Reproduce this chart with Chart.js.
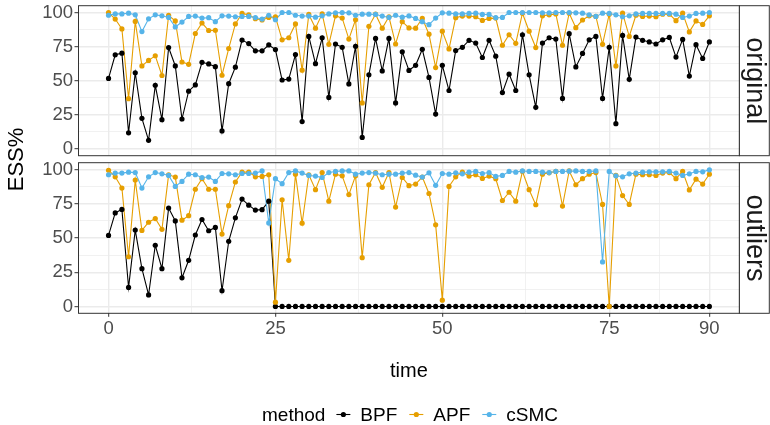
<!DOCTYPE html>
<html>
<head>
<meta charset="utf-8">
<script src="https://cdn.jsdelivr.net/npm/chart.js@4.4.1/dist/chart.umd.min.js"></script>
<style>
  html, body { margin: 0; padding: 0; background: #ffffff; }
  #wrap { position: relative; width: 770px; height: 425px; }
  #wrap canvas { position: absolute; left: 0; top: 0; }
</style>
</head>
<body>
<div id="wrap">
  <canvas id="panelOriginal" width="770" height="425"></canvas>
  <canvas id="panelOutliers" width="770" height="425"></canvas>
</div>
<script>
// ---- data -----------------------------------------------------------
const time = [
  0, 1, 2, 3, 4, 5, 6, 7, 8, 9, 10, 11, 12, 13, 14, 15, 16, 17, 18, 19,
  20, 21, 22, 23, 24, 25, 26, 27, 28, 29, 30, 31, 32, 33, 34, 35, 36, 37, 38, 39,
  40, 41, 42, 43, 44, 45, 46, 47, 48, 49, 50, 51, 52, 53, 54, 55, 56, 57, 58, 59,
  60, 61, 62, 63, 64, 65, 66, 67, 68, 69, 70, 71, 72, 73, 74, 75, 76, 77, 78, 79,
  80, 81, 82, 83, 84, 85, 86, 87, 88, 89, 90
];

const methods = ['BPF', 'APF', 'cSMC'];
const methodColors = ['#000000', '#E69F00', '#56B4E9'];
const panelLabels = ['original', 'outliers'];

const xMajor = [0, 25, 50, 75, 90];
const xMinor = [12.5, 37.5, 62.5, 82.5];
const yMajor = [0, 25, 50, 75, 100];
const yMinor = [12.5, 37.5, 62.5, 87.5];

// ESS% per time step, "original" data set
const originalBPF = [
  51.7, 69.0, 70.2, 11.8, 55.8, 22.4, 6.3, 46.6, 21.4, 74.3,
  60.8, 21.9, 42.3, 46.9, 63.5, 62.3, 60.3, 13.2, 47.8, 59.9,
  79.8, 77.2, 71.9, 71.9, 76.2, 72.8, 50.5, 51.2, 69.2, 20.0,
  82.5, 62.5, 81.5, 37.7, 76.9, 74.5, 47.6, 75.2, 8.4, 54.3,
  81.0, 57.2, 81.0, 33.7, 71.2, 57.5, 61.3, 73.0, 52.4, 25.5,
  61.3, 42.8, 72.1, 74.5, 79.6, 77.6, 67.0, 79.6, 68.0, 41.3,
  54.8, 42.8, 83.7, 54.3, 30.5, 77.6, 81.5, 80.5, 37.0, 84.5,
  60.1, 70.0, 80.0, 82.5, 37.0, 74.5, 18.5, 83.2, 51.0, 82.0,
  79.6, 78.4, 76.9, 80.0, 81.7, 67.3, 80.3, 53.4, 76.4, 66.3,
  78.4
];
const originalAPF = [
  100, 95.2, 88.0, 36.8, 93.5, 60.8, 64.9, 68.3, 53.8, 98.0,
  93.8, 63.7, 62.0, 84.6, 92.3, 86.8, 87.0, 54.0, 73.6, 91.6,
  99.3, 98.3, 95.5, 94.5, 96.4, 96.9, 80.0, 81.5, 91.6, 57.7,
  98.6, 88.5, 99.0, 76.7, 97.6, 95.9, 80.5, 94.7, 33.7, 89.9,
  98.8, 88.5, 96.9, 76.9, 93.3, 88.7, 88.5, 95.7, 84.1, 59.6,
  86.3, 73.3, 96.2, 97.4, 97.4, 96.9, 94.2, 95.7, 95.9, 76.0,
  83.7, 77.4, 99.5, 86.3, 74.3, 97.6, 98.3, 99.0, 76.0, 99.5,
  88.9, 94.5, 97.6, 97.1, 76.7, 98.8, 60.8, 99.5, 82.5, 98.0,
  97.1, 97.4, 96.9, 98.8, 98.8, 94.0, 99.5, 85.8, 93.8, 91.3,
  97.6
];
const originalCSMC = [
  98.0, 99.0, 99.0, 99.5, 98.3, 86.0, 95.4, 98.3, 97.6, 96.4,
  89.4, 93.0, 97.1, 97.4, 95.9, 96.2, 93.3, 97.6, 97.4, 96.9,
  97.1, 97.1, 96.3, 95.2, 98.0, 94.7, 100, 100, 98.0, 97.4,
  97.4, 96.6, 97.6, 99.0, 99.8, 100, 99.8, 98.0, 98.8, 98.8,
  98.6, 97.4, 96.4, 98.0, 96.6, 97.5, 95.7, 93.3, 91.1, 95.9,
  99.8, 99.5, 99.0, 99.0, 99.3, 99.5, 98.6, 98.6, 96.2, 96.4,
  100, 100, 100, 100, 100, 99.8, 99.8, 100, 100, 100,
  99.8, 99.5, 98.3, 97.1, 99.5, 99.3, 98.3, 96.9, 97.6, 99.0,
  99.3, 99.3, 99.3, 99.3, 99.3, 98.8, 96.4, 97.4, 99.3, 99.5,
  100
];

// ESS% per time step, "outliers" data set
const outliersBPF = [
  51.9, 68.3, 70.9, 13.9, 55.8, 27.6, 8.4, 44.7, 27.6, 71.9,
  62.5, 20.9, 33.7, 52.2, 63.5, 55.3, 57.7, 11.5, 47.6, 64.7,
  78.4, 74.0, 70.4, 70.7, 76.9, 0, 0, 0, 0, 0,
  0, 0, 0, 0, 0, 0, 0, 0, 0, 0,
  0, 0, 0, 0, 0, 0, 0, 0, 0, 0,
  0, 0, 0, 0, 0, 0, 0, 0, 0, 0,
  0, 0, 0, 0, 0, 0, 0, 0, 0, 0,
  0, 0, 0, 0, 0, 0, 0, 0, 0, 0,
  0, 0, 0, 0, 0, 0, 0, 0, 0, 0,
  0
];
const outliersAPF = [
  99.5, 94.7, 86.5, 36.3, 92.3, 55.5, 61.5, 64.2, 56.3, 96.2,
  94.5, 63.0, 66.3, 85.6, 93.3, 85.6, 85.6, 52.9, 73.6, 90.9,
  98.1, 98.1, 94.7, 95.0, 96.2, 3.1, 77.9, 33.7, 96.6, 60.8,
  96.2, 85.3, 97.8, 76.9, 96.6, 95.4, 81.7, 95.4, 35.6, 88.9,
  97.8, 87.0, 97.8, 72.6, 94.2, 88.2, 89.4, 94.5, 82.5, 59.6,
  4.6, 87.7, 94.7, 98.1, 95.2, 96.2, 93.5, 95.2, 93.3, 77.4,
  83.4, 76.9, 98.6, 85.3, 74.3, 96.6, 97.6, 98.6, 73.3, 99.0,
  88.9, 93.3, 96.6, 97.8, 74.5, 0, 95.7, 81.0, 74.5, 96.6,
  96.2, 96.2, 95.7, 97.4, 97.8, 93.3, 98.6, 85.1, 93.0, 89.4,
  96.6
];
const outliersCSMC = [
  96.2, 97.4, 97.4, 98.1, 97.8, 86.5, 94.7, 97.8, 96.9, 95.7,
  87.7, 91.3, 96.6, 96.2, 94.2, 94.5, 91.3, 97.1, 96.9, 96.2,
  97.1, 97.1, 97.4, 99.0, 61.0, 93.3, 89.7, 97.8, 99.0, 97.4,
  95.7, 95.2, 94.2, 97.8, 98.6, 99.0, 99.0, 96.6, 97.4, 97.8,
  97.4, 96.2, 96.6, 96.6, 97.4, 97.8, 95.9, 94.5, 97.6, 88.5,
  97.1, 96.6, 97.6, 96.9, 98.1, 98.6, 97.1, 97.8, 95.0, 95.7,
  98.6, 98.1, 99.0, 98.6, 98.6, 98.1, 97.8, 98.6, 98.6, 98.8,
  99.0, 98.6, 98.6, 99.0, 32.5, 98.6, 95.4, 94.7, 96.9, 97.4,
  98.1, 98.3, 98.3, 98.3, 98.6, 97.4, 95.7, 96.9, 98.6, 98.3,
  99.8
];

// ---- styling ----------------------------------------------------------
const FONT = '"Liberation Sans", Arial, Helvetica, sans-serif';
const CANVAS_W = 770, CANVAS_H = 425;
const PANEL_LEFT = 78.5, PANEL_RIGHT = 739.4, STRIP_W = 29.9;
const PANELS_Y = [[5.7, 155.7], [162.7, 313.3]];

Chart.defaults.font.family = FONT;

const isIn = (arr, v) => arr.some(a => Math.abs(a - v) < 1e-6);
const gridColor = '#EBEBEB';
const frameColor = '#333333';

// panel border plus the facet strip on the right
const panelFrame = {
  id: 'panelFrame',
  afterDraw(chart, args, opts) {
    const { ctx, chartArea: a } = chart;
    ctx.save();
    ctx.strokeStyle = frameColor;
    ctx.lineWidth = 1;
    ctx.strokeRect(a.left, a.top, a.right - a.left, a.bottom - a.top);
    ctx.fillStyle = '#ffffff';
    ctx.fillRect(a.right, a.top, opts.stripWidth, a.bottom - a.top);
    ctx.strokeRect(a.right, a.top, opts.stripWidth, a.bottom - a.top);
    ctx.translate(a.right + opts.stripWidth / 2, (a.top + a.bottom) / 2);
    ctx.rotate(Math.PI / 2);
    ctx.fillStyle = '#1A1A1A';
    ctx.font = '27px ' + FONT;
    ctx.textAlign = 'center';
    ctx.textBaseline = 'middle';
    ctx.fillText(opts.label, 0, 0);
    ctx.restore();
  }
};

// shared axis titles and the legend at the bottom
const furniture = {
  id: 'furniture',
  afterDraw(chart, args, opts) {
    if (!opts.enabled) return;
    const { ctx } = chart;
    ctx.save();
    ctx.fillStyle = '#000000';
    ctx.font = '20px ' + FONT;
    ctx.textAlign = 'center';
    ctx.textBaseline = 'alphabetic';
    ctx.fillText('time', (PANEL_LEFT + PANEL_RIGHT) / 2, 377);

    ctx.save();
    ctx.font = '22px ' + FONT;
    ctx.translate(23, (PANELS_Y[0][0] + PANELS_Y[1][1]) / 2);
    ctx.rotate(-Math.PI / 2);
    ctx.fillText('ESS%', 0, 0);
    ctx.restore();

    // legend
    ctx.font = '19px ' + FONT;
    ctx.textAlign = 'left';
    const yMid = 414.5, yBase = 421;
    let x = 262;
    ctx.fillText('method', x, yBase);
    x += ctx.measureText('method').width + 11;
    methods.forEach((m, i) => {
      ctx.strokeStyle = methodColors[i];
      ctx.lineWidth = 1.1;
      ctx.beginPath();
      ctx.moveTo(x, yMid);
      ctx.lineTo(x + 14, yMid);
      ctx.stroke();
      ctx.fillStyle = methodColors[i];
      ctx.beginPath();
      ctx.arc(x + 7, yMid, 2.6, 0, Math.PI * 2);
      ctx.fill();
      x += 24;
      ctx.fillStyle = '#000000';
      ctx.fillText(m, x, yBase);
      x += ctx.measureText(m).width + 12;
    });
    ctx.restore();
  }
};

function buildDatasets(seriesList) {
  const lines = seriesList.map((vals, i) => ({
    label: methods[i],
    data: time.map((t, j) => ({ x: t, y: vals[j] })),
    borderColor: methodColors[i],
    borderWidth: 1.1,
    pointRadius: 0,
    tension: 0,
    order: 6 - i
  }));
  const points = seriesList.map((vals, i) => ({
    label: methods[i],
    data: time.map((t, j) => ({ x: t, y: vals[j] })),
    showLine: false,
    pointRadius: 2.6,
    pointBorderWidth: 0,
    pointBackgroundColor: methodColors[i],
    order: 3 - i
  }));
  return lines.concat(points);
}

function makePanel(canvasId, seriesList, panelIndex) {
  const isBottom = panelIndex === 1;
  const [top, bottom] = PANELS_Y[panelIndex];
  const tickFont = { family: FONT, size: 18.5 };
  return new Chart(document.getElementById(canvasId), {
    type: 'line',
    data: { datasets: buildDatasets(seriesList) },
    options: {
      responsive: false,
      animation: false,
      events: [],
      devicePixelRatio: 1,
      layout: {
        padding: {
          left: 0,
          right: CANVAS_W - PANEL_RIGHT,
          top: top,
          bottom: isBottom ? 0 : CANVAS_H - bottom
        }
      },
      plugins: {
        legend: { display: false },
        tooltip: { enabled: false },
        panelFrame: { label: panelLabels[panelIndex], stripWidth: STRIP_W },
        furniture: { enabled: isBottom }
      },
      scales: {
        x: {
          type: 'linear',
          min: -4.5,
          max: 94.5,
          afterBuildTicks: s => {
            s.ticks = xMajor.concat(xMinor).sort((a, b) => a - b).map(v => ({ value: v }));
          },
          afterFit: s => {
            s.height = isBottom ? CANVAS_H - bottom : 0;
            s.paddingLeft = 0;
            s.paddingRight = 0;
          },
          border: { display: false },
          grid: {
            color: gridColor,
            lineWidth: c => (c.tick && isIn(xMajor, c.tick.value)) ? 1.4 : 0.7,
            drawTicks: isBottom,
            tickLength: 3.5,
            tickWidth: 1,
            tickColor: c => (c.tick && isIn(xMajor, c.tick.value)) ? frameColor : 'rgba(0,0,0,0)'
          },
          ticks: {
            display: isBottom,
            autoSkip: false,
            maxRotation: 0,
            padding: 1,
            font: tickFont,
            color: '#4D4D4D',
            callback: v => isIn(xMajor, v) ? String(v) : ''
          }
        },
        y: {
          type: 'linear',
          min: -5,
          max: 105,
          afterBuildTicks: s => {
            s.ticks = yMajor.concat(yMinor).sort((a, b) => a - b).map(v => ({ value: v }));
          },
          afterFit: s => {
            s.width = PANEL_LEFT;
            s.paddingTop = 0;
            s.paddingBottom = 0;
          },
          border: { display: false },
          grid: {
            color: gridColor,
            lineWidth: c => (c.tick && isIn(yMajor, c.tick.value)) ? 1.4 : 0.7,
            drawTicks: true,
            tickLength: 4,
            tickWidth: 1,
            tickColor: c => (c.tick && isIn(yMajor, c.tick.value)) ? frameColor : 'rgba(0,0,0,0)'
          },
          ticks: {
            autoSkip: false,
            padding: 1.5,
            font: tickFont,
            color: '#4D4D4D',
            callback: v => isIn(yMajor, v) ? String(v) : ''
          }
        }
      }
    },
    plugins: [panelFrame, furniture]
  });
}

makePanel('panelOriginal', [originalBPF, originalAPF, originalCSMC], 0);
makePanel('panelOutliers', [outliersBPF, outliersAPF, outliersCSMC], 1);
</script>
</body>
</html>
